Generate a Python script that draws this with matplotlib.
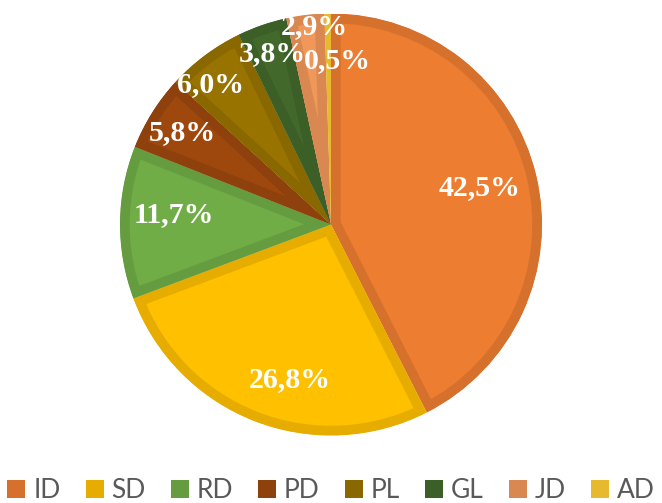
import matplotlib.pyplot as plt
from matplotlib.patches import Patch, Wedge
import numpy as np

# dados do gráfico
categorias = ["ID", "SD", "RD", "PD", "PL", "GL", "JD", "AD"]
valores = [42.5, 26.8, 11.7, 5.8, 6.0, 3.8, 2.9, 0.5]
cores = ["#ED7D31", "#FFC000", "#70AD47", "#9E480E", "#997300", "#43682B", "#F1975A", "#FFCD33"]

# posição dos rótulos (coordenadas do eixo, raio = 1)
label_xy = [(0.706, 0.173), (-0.194, -0.737), (-0.744, 0.045), (-0.706, 0.434),
            (-0.569, 0.661), (-0.280, 0.808), (-0.081, 0.936), (0.028, 0.775)]

# borda = cor 10% mais escura
bordas = [tuple(np.array(plt.matplotlib.colors.to_rgb(c)) * 0.9) for c in cores]

fig = plt.figure(figsize=(6.62, 5.03), dpi=100)
ax = fig.add_axes([(331 - 211) / 662, (503 - 224.5 - 211) / 503, 422 / 662, 422 / 503])

wedges, _ = ax.pie(valores, colors=cores, startangle=90, counterclock=False,
                   radius=1.0, wedgeprops=dict(linewidth=14))
for w, b in zip(wedges, bordas):
    w.set_edgecolor(b)
    w.set_joinstyle("round")
    # borda só por dentro da fatia
    clip = Wedge(w.center, w.r, w.theta1, w.theta2, transform=ax.transData)
    w.set_clip_on(True)
    w.set_clip_path(clip)

ax.set_xlim(-1, 1)
ax.set_ylim(-1, 1)
ax.set_aspect("equal")
ax.axis("off")

# rótulos de porcentagem
for v, (x, y) in zip(valores, label_xy):
    ax.text(x, y, f"{v:.1f}%".replace(".", ","), ha="center", va="center",
            color="white", fontsize=21.5, fontweight="bold", family="Liberation Serif")

# legenda
handles = [Patch(facecolor=b, edgecolor="none") for b in bordas]
fig.legend(handles, categorias, loc="center", ncol=8, frameon=False,
           bbox_to_anchor=(0.5, 12 / 503), handlelength=0.68, handleheight=0.68,
           handletextpad=0.3, columnspacing=0.95, borderpad=0,
           prop=dict(family="Lato", size=19), labelcolor="#595959")

fig.savefig("out.png", dpi=100)
